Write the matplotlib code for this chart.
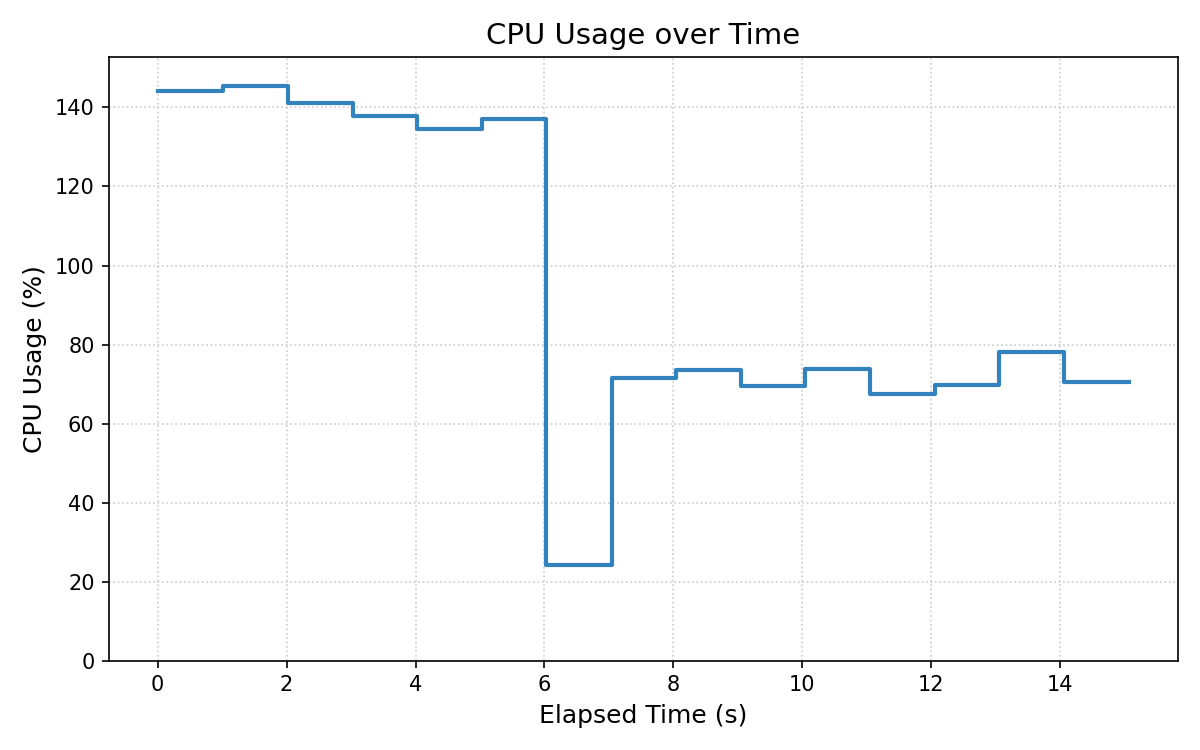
import numpy as np
import matplotlib.pyplot as plt

# elapsed time of each sample (s) and CPU usage (%)
elapsed = [0.0, 1.02, 2.025, 3.03, 4.03, 5.03, 6.03, 7.045, 8.045,
           9.05, 10.05, 11.05, 12.055, 13.06, 14.065, 15.07]
cpu = [144.1, 145.5, 141.1, 137.9, 134.5, 137.0, 24.1, 71.4, 73.5,
       69.4, 73.7, 67.4, 69.7, 78.0, 70.6, 70.6]

fig, ax = plt.subplots(figsize=(8, 5), dpi=150)
ax.step(elapsed, cpu, where='post', color='#3182bd', linewidth=2)
ax.set_title('CPU Usage over Time', fontsize=14)
ax.set_xlabel('Elapsed Time (s)', fontsize=12)
ax.set_ylabel('CPU Usage (%)', fontsize=12)
ax.set_ylim(0, max(cpu) * 1.05)
ax.grid(True, linestyle=':', color='#cccccc', linewidth=0.8)
plt.tight_layout()
plt.savefig('out.png')
